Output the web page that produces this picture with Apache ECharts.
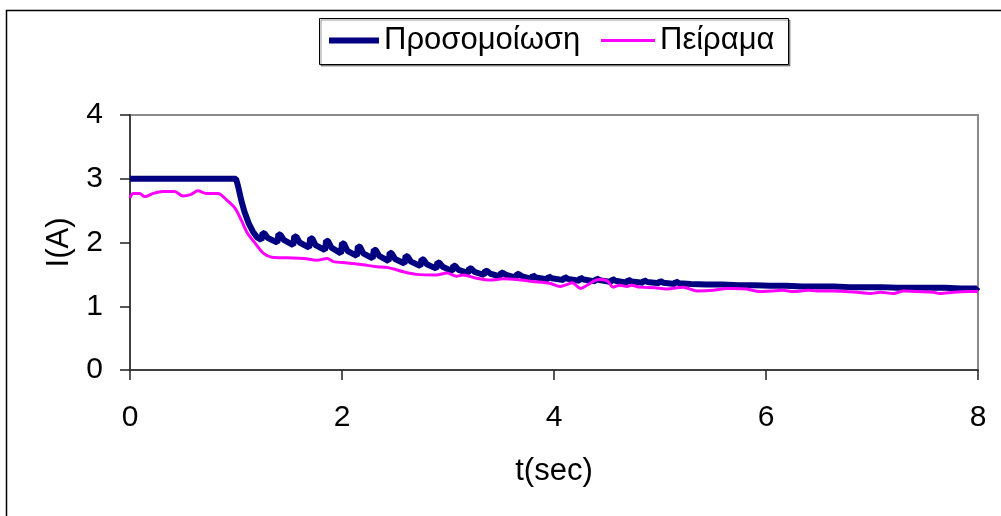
<!DOCTYPE html>
<html>
<head>
<meta charset="utf-8">
<script src="https://cdn.jsdelivr.net/npm/echarts@6/dist/echarts.min.js"></script>
<style>
  html, body { margin: 0; padding: 0; background: #fff; }
  #chart { width: 1001px; height: 516px; }
</style>
</head>
<body>
<div id="chart"></div>
<script>
// Series names as shown in the legend
const seriesNames = ['Προσομοίωση', 'Πείραμα'];

// Simulated current I(A) versus time t(sec): flat start, drop at t = 1 s,
// then a ripple of sharp recharging spikes riding on a slow decay.
const simulation = [
  [0.00, 3.00], [1.00, 3.00], [1.02, 2.88], [1.05, 2.66], [1.08, 2.48],
  [1.12, 2.30], [1.16, 2.17], [1.20, 2.08],
  [1.24, 2.04], [1.25, 2.15], [1.27, 2.14], [1.30, 2.07],
  [1.39, 2.00], [1.40, 2.13], [1.42, 2.12], [1.45, 2.04],
  [1.54, 1.96], [1.55, 2.10], [1.57, 2.09], [1.60, 2.00],
  [1.69, 1.92], [1.70, 2.07], [1.72, 2.06], [1.75, 1.96],
  [1.84, 1.88], [1.85, 2.03], [1.87, 2.02], [1.90, 1.92],
  [1.99, 1.83], [2.00, 1.99], [2.02, 1.98], [2.05, 1.87],
  [2.14, 1.79], [2.15, 1.94], [2.17, 1.93], [2.20, 1.83],
  [2.29, 1.75], [2.30, 1.89], [2.32, 1.88], [2.35, 1.79],
  [2.44, 1.71], [2.45, 1.84], [2.47, 1.83], [2.50, 1.74],
  [2.59, 1.67], [2.60, 1.79], [2.62, 1.78], [2.65, 1.70],
  [2.74, 1.63], [2.75, 1.74], [2.77, 1.73], [2.80, 1.66],
  [2.89, 1.59], [2.90, 1.69], [2.92, 1.68], [2.95, 1.62],
  [3.04, 1.55], [3.05, 1.64], [3.07, 1.63], [3.10, 1.57],
  [3.19, 1.52], [3.20, 1.60], [3.22, 1.59], [3.25, 1.54],
  [3.34, 1.49], [3.35, 1.56], [3.37, 1.55], [3.40, 1.51],
  [3.49, 1.47], [3.50, 1.53], [3.52, 1.52], [3.55, 1.49],
  [3.64, 1.45], [3.65, 1.51], [3.67, 1.50], [3.70, 1.47],
  [3.79, 1.43], [3.80, 1.49], [3.83, 1.45],
  [3.94, 1.42], [3.95, 1.47], [3.98, 1.44],
  [4.09, 1.41], [4.10, 1.46], [4.13, 1.43],
  [4.24, 1.40], [4.25, 1.45], [4.28, 1.42],
  [4.39, 1.39], [4.40, 1.44], [4.43, 1.41],
  [4.54, 1.38], [4.55, 1.43], [4.58, 1.40],
  [4.69, 1.37], [4.70, 1.42], [4.73, 1.39],
  [4.84, 1.37], [4.85, 1.41], [4.88, 1.38],
  [4.99, 1.36], [5.00, 1.40], [5.03, 1.37],
  [5.14, 1.35], [5.15, 1.39], [5.18, 1.36],
  [5.29, 1.35], [5.30, 1.38],
  [5.44, 1.34], [5.45, 1.37],
  [5.59, 1.34], [5.60, 1.36],
  [5.74, 1.33], [5.75, 1.36],
  [5.89, 1.33], [5.90, 1.35],
  [6.04, 1.32], [6.05, 1.35],
  [6.19, 1.32], [6.20, 1.34],
  [6.34, 1.31], [6.35, 1.34],
  [6.49, 1.31], [6.50, 1.33],
  [6.64, 1.31], [6.65, 1.33],
  [6.79, 1.30], [6.80, 1.33],
  [6.94, 1.30], [6.95, 1.32],
  [7.09, 1.30], [7.10, 1.32],
  [7.24, 1.29], [7.25, 1.31],
  [7.39, 1.29], [7.40, 1.31],
  [7.54, 1.29], [7.55, 1.31],
  [7.69, 1.29], [7.70, 1.30],
  [7.84, 1.28], [7.85, 1.30],
  [7.99, 1.28], [8.00, 1.30]
];

// Measured current I(A) versus time t(sec)
const experiment = [
  [0.00, 2.70], [0.03, 2.77], [0.09, 2.77], [0.14, 2.72], [0.22, 2.77],
  [0.31, 2.80], [0.42, 2.80], [0.50, 2.73], [0.57, 2.75], [0.64, 2.81],
  [0.72, 2.77], [0.83, 2.77], [0.91, 2.67], [0.99, 2.54], [1.05, 2.35],
  [1.11, 2.14], [1.18, 1.99], [1.26, 1.83], [1.34, 1.77], [1.48, 1.76],
  [1.64, 1.75], [1.76, 1.72], [1.86, 1.75], [1.92, 1.70], [2.05, 1.68],
  [2.20, 1.65], [2.33, 1.62], [2.42, 1.61], [2.50, 1.58], [2.58, 1.54],
  [2.70, 1.50], [2.89, 1.49], [2.99, 1.52], [3.08, 1.47], [3.14, 1.49],
  [3.27, 1.44], [3.40, 1.41], [3.52, 1.43], [3.65, 1.42], [3.80, 1.39],
  [3.96, 1.36], [4.06, 1.31], [4.12, 1.34], [4.17, 1.37], [4.25, 1.28],
  [4.34, 1.36], [4.42, 1.42], [4.50, 1.40], [4.56, 1.30], [4.62, 1.33],
  [4.69, 1.31], [4.73, 1.33], [4.81, 1.30], [4.95, 1.29], [5.06, 1.27],
  [5.22, 1.30], [5.35, 1.24], [5.50, 1.25], [5.63, 1.28], [5.69, 1.28],
  [5.82, 1.27], [5.94, 1.23], [6.05, 1.24], [6.16, 1.25], [6.26, 1.23],
  [6.40, 1.25], [6.48, 1.24], [6.63, 1.24], [6.75, 1.23], [6.86, 1.22],
  [6.98, 1.20], [7.08, 1.22], [7.20, 1.20], [7.30, 1.24], [7.42, 1.23],
  [7.58, 1.22], [7.64, 1.20], [7.77, 1.22], [7.90, 1.23], [8.00, 1.23]
];

// Axis ranges and titles
const xRange = [0, 8, 2];
const yRange = [0, 4, 1];
const xTitle = 't(sec)';
const yTitle = 'I(A)';

const FONT = '"Liberation Sans", Arial, sans-serif';
const chart = echarts.init(document.getElementById('chart'), null, { renderer: 'canvas' });

const legendText = { fontFamily: FONT, fontSize: 31, color: '#000' };

chart.setOption({
  animation: false,
  backgroundColor: '#ffffff',
  textStyle: { fontFamily: FONT, color: '#000' },
  graphic: [
    // outer frame of the figure
    {
      type: 'rect', z: -10, silent: true,
      shape: { x: 6.5, y: 10.5, width: 1200, height: 800 },
      style: { fill: '#fff', stroke: '#000', lineWidth: 1.5 }
    },
    // legend box
    {
      type: 'rect', z: 0, silent: true,
      shape: { x: 319.5, y: 18.5, width: 469, height: 46 },
      style: {
        fill: '#fff', stroke: '#000', lineWidth: 1,
        shadowColor: 'rgba(0,0,0,0.4)', shadowOffsetX: 1.5, shadowOffsetY: 1.5, shadowBlur: 0
      }
    }
  ],
  // one legend entry per component so each keeps its own line weight
  legend: [
    {
      left: 329, top: 25, z: 5, padding: 0,
      icon: 'rect', itemWidth: 50, itemHeight: 6,
      data: [seriesNames[0]], textStyle: legendText
    },
    {
      left: 601, top: 25, z: 5, padding: 0,
      icon: 'rect', itemWidth: 54, itemHeight: 3,
      data: [seriesNames[1]], textStyle: legendText
    }
  ],
  grid: {
    left: 130, right: 23, top: 115, bottom: 146,
    show: true, borderColor: '#8a8a8a', borderWidth: 2, backgroundColor: 'transparent'
  },
  xAxis: {
    type: 'value', min: xRange[0], max: xRange[1], interval: xRange[2],
    name: xTitle, nameLocation: 'middle', nameGap: 86,
    nameTextStyle: { fontFamily: FONT, fontSize: 31, color: '#000' },
    axisLine: { lineStyle: { color: '#404040', width: 2 } },
    axisTick: { show: true, inside: false, length: 10, lineStyle: { color: '#202020', width: 1.5 } },
    axisLabel: { margin: 33, fontFamily: FONT, fontSize: 30, color: '#000' },
    splitLine: { show: false }
  },
  yAxis: {
    type: 'value', min: yRange[0], max: yRange[1], interval: yRange[2],
    name: yTitle, nameLocation: 'middle', nameGap: 55, nameRotate: 90,
    nameTextStyle: { fontFamily: FONT, fontSize: 31, color: '#000' },
    axisLine: { show: true, lineStyle: { color: '#404040', width: 2 } },
    axisTick: { show: true, inside: false, length: 10, lineStyle: { color: '#202020', width: 1.5 } },
    axisLabel: { margin: 27, fontFamily: FONT, fontSize: 30, color: '#000' },
    splitLine: { show: false }
  },
  series: [
    {
      name: seriesNames[0], type: 'line', data: simulation,
      symbol: 'none', smooth: false,
      lineStyle: { color: '#000080', width: 6 },
      itemStyle: { color: '#000080' }
    },
    {
      name: seriesNames[1], type: 'line', data: experiment,
      symbol: 'none', smooth: 0.3,
      lineStyle: { color: '#ff00ff', width: 3 },
      itemStyle: { color: '#ff00ff' }
    }
  ]
});
</script>
</body>
</html>
